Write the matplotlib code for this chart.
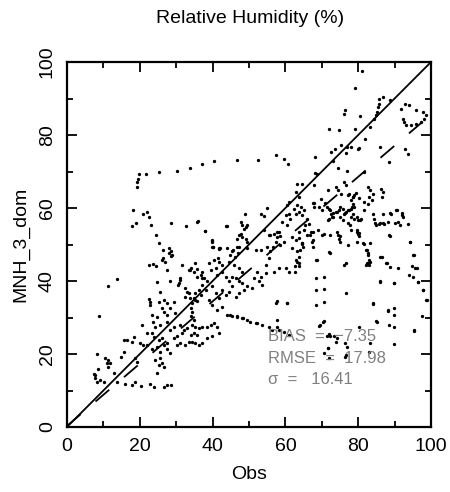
import matplotlib
matplotlib.use("Agg")
import matplotlib.pyplot as plt
import numpy as np

plt.rcParams['font.family'] = ['Liberation Sans', 'DejaVu Sans']
plt.rcParams['lines.scale_dashes'] = False

title = "Relative Humidity (%)"
xlabel = "Obs"
ylabel = "MNH_3_dom"
stats_labels = ["BIAS  =  \u22127.35", "RMSE  =  17.98", "\u03c3  =   16.41"]
ticks = [0, 20, 40, 60, 80, 100]
reg_intercept = 0.3
reg_slope = 0.853

# (obs, model) pairs, grouped by region
pts_upper_left = [
    (19.1,65.8),(19.3,67.0),(19.6,67.9),(19.8,69.2),(21.7,69.3),(25.4,69.9),(30.1,70.1),
    (33.8,71.0),(37.2,72.1),(40.5,73.0),(46.7,73.2),(52.4,73.2),(57.3,74.5),(59.6,73.3),(60.8,72.0),
    (18.0,59.5),(21.0,58.3),(22.1,59.0),(22.6,57.6),(17.8,55.1),(18.9,55.8),(23.0,55.3),(28.7,55.8),
    (32.7,55.2),(35.9,56.4),(37.9,53.6),(43.9,55.1),(24.4,52.6),(25.4,50.3),(26.5,48.5),(28.1,49.0),
    (28.7,48.3),(28.1,47.6),(28.5,46.9),(26.3,46.2),(39.7,51.1),(40.0,49.2),(41.8,48.9),(41.6,46.2),
    (44.8,47.1),(45.7,48.5),(46.6,49.4),(47.1,47.6),(46.1,46.7),(35.8,56.3),(28.8,47.1),
]
pts_lower_left = [
    (22.4,44.4),(23.6,44.7),(24.5,44.2),(26.1,45.7),(27.0,45.3),(27.5,43.0),(31.6,44.4),(33.4,43.0),
    (13.6,40.5),(11.4,38.6),(24.7,39.8),(28.2,40.0),(31.1,40.7),(30.7,39.4),(25.6,37.1),(32.5,38.0),
    (33.0,37.1),(22.4,35.2),(22.7,34.3),(22.9,33.4),(25.2,34.3),(26.6,34.8),(27.5,33.9),(29.3,34.3),
    (26.1,32.5),(26.6,31.6),(28.4,32.5),(23.4,30.7),(24.7,30.2),(27.5,30.7),(29.8,31.1),(8.9,30.5),
    (20.6,27.9),(23.6,28.9),(24.3,27.5),(25.6,27.9),(27.5,28.7),(28.4,26.6),(29.3,27.5),(31.1,27.9),
    (32.1,26.6),(31.6,25.7),(33.0,27.0),(22.0,25.7),(23.4,25.7),(23.8,24.7),(25.2,23.8),(26.1,24.3),
    (27.5,22.9),(29.3,24.3),(30.2,24.8),(15.6,23.8),(16.5,23.8),(18.3,24.7),(17.9,23.4),(20.1,22.9),
    (20.9,22.5),(22.0,22.5),(23.4,21.5),(24.7,22.0),(25.6,20.6),(26.6,22.5),(27.5,21.5),(28.4,20.2),
    (30.2,22.5),(31.1,22.9),(32.5,22.5),(33.4,23.4),(14.7,19.3),(15.6,20.6),(8.2,19.9),(10.5,18.8),
    (11.4,18.4),(11.0,17.4),(11.9,17.4),(11.4,16.5),(18.8,18.8),(19.2,17.9),(24.3,18.4),(25.6,18.8),
    (26.1,17.4),(25.2,17.0),(26.6,16.5),(24.7,14.9),(8.4,15.9),(7.3,14.4),(7.8,13.3),(8.2,12.4),
    (9.2,12.9),(10.1,12.4),(7.8,14.2),(12.8,14.9),(13.7,12.4),(16.0,11.9),(17.9,11.5),(18.8,12.4),
    (20.3,11.3),(22.9,11.9),(23.8,11.0),(26.6,11.0),(27.5,11.5),(28.6,11.5),(33.8,43.0),(35.6,43.2),
    (39.8,50.8),(40.2,49.4),(42.1,49.0),(31.1,40.3),(30.6,38.9),(37.0,40.8),(33.4,36.6),(32.4,35.7),
    (33.8,35.3),(35.2,34.8),
]
pts_center = [
    (39.9,49.4),(41.7,49.0),(44.0,49.0),(45.4,48.1),(47.2,49.4),(49.5,49.0),(51.8,48.5),(53.2,48.5),
    (55.0,49.4),(55.9,48.1),(55.5,46.2),(54.6,44.4),(61.9,49.0),(63.3,48.1),(62.8,45.8),(63.7,44.9),
    (62.6,44.0),(60.1,43.5),(61.0,42.6),(58.2,43.5),(56.9,42.6),(54.6,42.1),(53.2,41.2),(52.3,42.6),
    (51.4,40.8),(52.7,39.9),(53.6,38.9),(50.9,38.0),(49.5,38.5),(47.2,43.5),(48.2,42.6),(45.9,44.4),
    (44.5,45.3),(42.7,44.4),(41.7,45.3),(40.4,45.8),(39.0,44.9),(39.5,43.1),(40.8,43.5),(41.3,41.7),
    (42.7,42.6),(43.6,41.2),(44.5,39.9),(45.4,41.2),(46.3,40.8),(47.2,39.9),(48.2,39.4),(48.6,37.6),
    (47.2,36.7),(46.3,35.7),(45.4,38.5),(44.5,37.1),(43.6,36.2),(42.7,37.6),(41.7,35.3),(40.8,36.7),
    (39.9,38.5),(38.5,39.9),(37.2,38.9),(36.2,37.6),(35.3,36.7),(34.9,35.3),(34.4,33.9),(34.0,32.5),
    (35.8,34.4),(36.7,36.2),(37.6,40.8),(36.7,41.7),(35.8,41.2),(34.9,42.6),(34.0,43.5),(35.3,44.9),
    (37.2,42.6),(38.1,37.6),(39.0,34.8),(39.9,33.4),(41.3,32.1),(42.7,33.0),(44.0,30.7),(45.4,30.3),
    (46.8,30.3),(48.2,29.8),(49.5,29.4),(51.8,28.4),(53.6,28.0),(55.5,27.5),(56.4,26.6),(57.5,33.9),
    (60.5,33.9),(57.8,27.5),(58.2,26.6),(59.6,26.1),(61.0,25.2),(34.4,31.6),(34.0,30.3),(34.9,29.4),
    (34.4,28.0),(35.3,27.5),(36.2,27.1),(37.2,27.5),(38.5,27.5),(39.5,28.0),(40.4,28.4),(41.3,27.5),
    (41.7,25.7),(39.9,24.8),(38.5,24.3),(37.2,23.0),(36.2,22.5),(35.3,23.0),(34.4,23.4),(34.0,25.2),
    (34.9,25.7),(35.8,25.2),(44.8,30.7),(46.6,30.2),(48.4,29.8),(50.3,28.8),(52.1,28.4),(57.6,29.3),
]
pts_upper_mid = [
    (37.9,53.6),(39.7,51.0),(43.8,55.1),(48.9,58.4),(47.7,56.3),(48.2,55.4),(49.1,54.8),(49.5,55.3),
    (48.6,54.3),(47.7,53.0),(47.2,52.5),(48.2,52.1),(46.8,51.6),(49.1,51.6),(49.5,50.7),(53.2,58.3),
    (54.1,57.8),(55.0,60.0),(55.5,52.5),(56.9,53.0),(57.8,52.1),(58.2,53.4),(57.3,50.7),(59.1,56.2),
    (60.1,58.0),(61.0,58.4),(61.4,57.1),(60.5,55.3),(61.0,61.6),(60.5,60.7),(62.8,64.4),(63.3,66.7),
    (64.6,66.7),(62.3,59.8),(63.3,60.7),(64.2,60.3),(62.8,58.4),(63.7,58.9),(64.6,58.0),(65.1,59.4),
    (66.0,57.1),(65.5,55.3),(66.5,55.7),(65.1,53.9),(63.7,53.4),(61.9,52.1),(62.8,51.1),(64.6,50.2),
    (66.0,52.5),(66.9,53.4),(63.7,63.0),(68.6,69.3),(76.7,75.0),(54.0,54.0),(55.8,52.6),(57.6,53.5),
    (58.5,52.2),(59.5,50.8),(56.7,49.4),(58.5,49.9),(64.5,50.3),(64.9,49.4),(67.2,50.8),(67.7,49.4),
    (70.0,52.6),(72.3,52.6),(74.1,53.5),(75.0,50.8),(77.3,49.9),(79.6,50.8),(67.7,61.3),(69.1,60.4),
    (70.9,61.3),(70.0,59.5),(71.4,60.4),(72.3,59.5),(73.2,58.6),(74.1,59.0),(72.7,57.6),(71.8,56.7),
    (75.0,60.4),(75.0,57.6),(75.9,56.7),(77.3,55.8),(76.4,58.6),(77.3,59.5),(78.2,60.4),(78.7,63.1),
    (79.4,64.0),(80.1,62.7),(79.6,57.6),(80.5,56.7),(77.8,55.4),(79.6,54.0),(80.1,52.2),(84.6,55.8),
    (86.0,55.8),(86.9,55.8),(88.3,56.3),(90.1,55.8),(88.8,58.5),(90.6,59.5),(92.0,58.5),(92.4,57.6),
    (94.3,50.8),
]
pts_upper_right = [
    (81.0,97.5),(79.2,92.9),(86.7,90.4),(85.8,89.8),(85.6,88.6),(85.4,87.7),(85.1,86.3),(84.9,85.4),
    (84.4,84.5),(88.7,89.5),(76.4,86.8),(76.2,85.8),(80.6,85.1),(83.3,82.2),(72.1,81.7),(74.8,81.3),
    (79.2,81.6),(91.8,87.2),(92.9,88.6),(94.0,88.1),(95.9,86.8),(97.7,86.3),(98.6,85.4),(98.0,84.5),
    (97.3,83.6),(95.9,83.1),(94.5,82.7),(93.1,82.7),(92.5,83.6),(92.2,84.5),(68.2,74.0),(72.5,75.3),
    (73.7,76.2),(75.3,77.2),(76.9,76.7),(78.0,76.7),(79.9,76.1),(80.1,76.4),(82.0,78.8),(86.1,76.7),
    (88.5,72.6),(92.9,76.1),(93.8,74.9),(73.0,72.8),(74.4,71.0),(76.9,70.1),(81.7,69.9),(68.1,69.6),
    (67.9,66.2),(71.6,64.8),(73.9,65.8),(74.4,64.8),(76.2,67.1),(76.6,66.2),(75.3,63.9),(77.1,63.5),
    (77.6,63.9),(78.5,63.0),(78.9,63.5),(78.0,62.1),(78.5,61.2),(78.9,60.3),(82.6,65.8),(83.3,64.8),
    (84.0,63.9),(83.1,63.0),(83.7,62.1),(82.6,61.2),(86.3,65.3),(86.7,64.4),(86.5,63.0),(81.5,61.6),
    (69.8,62.5),(67.8,61.5),(67.9,60.3),(72.1,59.8),(72.5,58.4),(73.0,57.5),(72.1,57.1),(73.9,58.9),
    (74.8,59.4),(75.7,59.8),(76.2,58.4),(76.6,58.9),(77.6,59.4),(78.0,59.8),(78.5,58.4),(78.0,57.5),
    (78.9,57.1),(79.9,56.6),(80.8,57.1),(81.7,59.4),(84.0,58.4),(84.4,57.1),(84.9,55.3),(85.8,55.5),
    (87.2,55.5),(86.7,58.4),(89.0,58.4),(90.4,59.4),(90.8,56.2),(91.6,55.3),(92.0,58.0),(93.6,55.7),
    (88.5,52.5),(68.9,53.9),(70.7,53.0),(74.4,52.5),(74.8,51.6),(78.0,53.9),(79.9,53.0),(67.5,53.4),
    (81.7,50.2),
]
pts_lower_right = [
    (68.4,45.8),(72.1,48.0),(76.2,44.4),(76.6,44.8),(82.1,48.5),(82.6,47.6),(83.1,45.8),(82.6,44.8),
    (82.1,44.4),(83.1,44.4),(86.1,46.7),(87.6,44.8),(88.8,43.9),(91.0,43.5),(95.0,47.1),(96.2,43.6),
    (94.0,41.6),(95.0,41.2),(96.4,39.8),(86.1,40.0),(89.9,39.4),(68.4,40.7),(70.7,41.2),(68.4,37.5),
    (70.7,37.8),(76.6,36.6),(68.4,33.4),(70.7,34.3),(97.7,37.5),(98.6,34.8),(84.0,33.6),(88.1,31.8),
    (89.9,32.5),(89.7,30.7),(97.5,30.4),(70.7,29.0),(69.3,27.7),(84.9,29.0),(80.3,27.5),(88.5,27.9),
    (95.4,26.3),(72.1,25.4),(73.4,24.9),(73.9,23.4),(71.6,21.7),(70.7,20.2),(72.1,19.0),(76.6,19.7),
    (83.1,20.6),(89.9,22.7),(63.6,51.7),(64.5,50.3),(64.0,48.5),(63.6,46.7),(63.1,45.3),(63.6,44.0),
    (62.7,42.6),(66.8,52.6),(67.7,51.3),(68.6,45.8),(72.3,47.8),(75.0,52.2),(60.4,33.9),(57.6,34.4),
    (79.6,53.5),(80.1,53.1),(81.4,50.3),(83.3,50.3),(82.3,48.5),(82.8,47.2),(82.3,44.9),(83.3,45.3),
    (86.5,46.7),(87.8,44.9),(88.8,52.2),(94.3,50.8),(95.2,47.2),(94.7,44.0),(95.6,43.5),(86.0,39.8),
    (89.7,39.4),(96.5,39.8),(97.9,37.6),(98.8,34.8),(84.2,33.9),(88.3,32.1),(85.1,28.9),(89.7,27.5),
    (95.2,26.6),(71.4,24.8),(72.3,25.0),(74.1,24.3),(71.6,21.6),(76.4,23.1),(76.8,22.0),(76.4,19.3),
    (83.3,22.9),(69.5,28.0),(70.4,28.9),
]

groups = [pts_upper_left, pts_lower_left, pts_center, pts_upper_mid, pts_upper_right, pts_lower_right]
obs = np.array([p[0] for g in groups for p in g])
mnh = np.array([p[1] for g in groups for p in g])

fig = plt.figure(figsize=(4.5, 4.92), dpi=100)
ax = fig.add_axes([67/450, 65/492, 364/450, 365/492])

ax.plot(obs, mnh, 'o', color='black', markersize=2.4, markeredgewidth=0, linestyle='none')

xl = np.array([0, 100])
ax.plot(xl, xl, color='black', linewidth=1.3)
ax.plot(xl, reg_intercept + reg_slope * xl, color='black', linewidth=1.3, dashes=(13, 14))

ax.set_xlim(0, 100)
ax.set_ylim(0, 100)
ax.set_xticks(ticks)
ax.set_yticks(ticks)
ax.set_xticks(range(10, 100, 20), minor=True)
ax.set_yticks(range(10, 100, 20), minor=True)
ax.tick_params(which='both', direction='in', top=True, right=True, width=1.3, labelsize=14)
ax.tick_params(which='major', length=7)
ax.tick_params(which='minor', length=4)
ax.tick_params(axis='x', pad=8)
ax.tick_params(axis='y', pad=8)
for lab in ax.get_yticklabels():
    lab.set_rotation(90)
    lab.set_va('center')
for s in ax.spines.values():
    s.set_linewidth(1.6)

ax.set_xlabel(xlabel, fontsize=14, labelpad=8)
ax.set_ylabel(ylabel, fontsize=14, labelpad=7)
fig.text(0.555, 0.963, title, ha='center', va='center', fontsize=14)

for i, s in enumerate(stats_labels):
    ax.text(55.2, 24.9 - 6.0 * i, s, color='#808080', fontsize=12, ha='left', va='center')

fig.savefig('out.png', dpi=100)
